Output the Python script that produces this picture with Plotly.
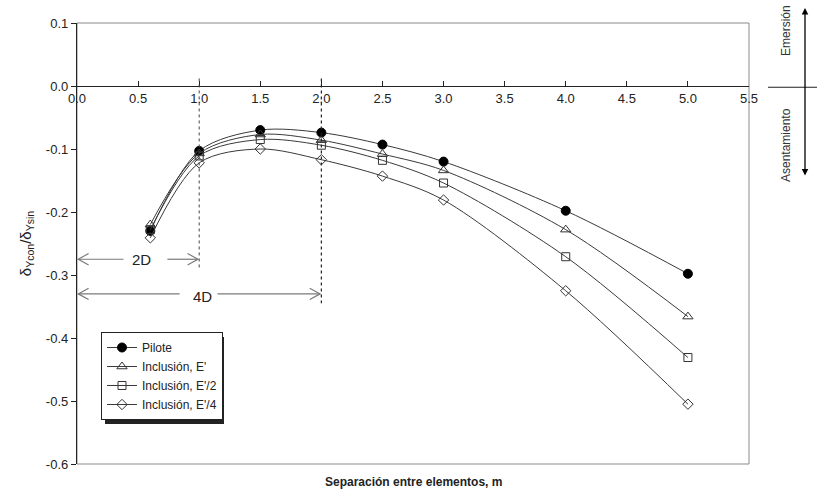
import plotly.graph_objects as go

# ---- data ----
separacion = [0.6, 1.0, 1.5, 2.0, 2.5, 3.0, 4.0, 5.0]
pilote     = [-0.230, -0.103, -0.070, -0.074, -0.093, -0.120, -0.198, -0.298]
incl_E     = [-0.220, -0.107, -0.077, -0.086, -0.108, -0.134, -0.228, -0.366]
incl_E2    = [-0.228, -0.111, -0.085, -0.094, -0.118, -0.154, -0.271, -0.431]
incl_E4    = [-0.241, -0.122, -0.100, -0.117, -0.143, -0.181, -0.325, -0.505]

series_names = ["Pilote", "Inclusión, E'", "Inclusión, E'/2", "Inclusión, E'/4"]
x_ticks = [0.0, 0.5, 1.0, 1.5, 2.0, 2.5, 3.0, 3.5, 4.0, 4.5, 5.0, 5.5]
y_ticks = [0.1, 0.0, -0.1, -0.2, -0.3, -0.4, -0.5, -0.6]

FONT = "Liberation Sans, Arial, sans-serif"
LINE = "#3a3a3a"

fig = go.Figure()
styles = [
    dict(symbol="circle", size=9, color="black", line=dict(color="black", width=1)),
    dict(symbol="triangle-up-open", size=9, color="#333", line=dict(color="#333", width=1)),
    dict(symbol="square-open", size=8, color="#333", line=dict(color="#333", width=1)),
    dict(symbol="diamond-open", size=8, color="#333", line=dict(color="#333", width=1)),
]
for name, vals, st in zip(series_names, [pilote, incl_E, incl_E2, incl_E4], styles):
    fig.add_trace(go.Scatter(
        x=separacion, y=vals, name=name, mode="lines+markers",
        line=dict(color=LINE, width=1, shape="spline", smoothing=0.9),
        marker=st, cliponaxis=False,
    ))

PW, PH, L, T = 672, 441, 77, 23
def px(xp):  # pixel x -> paper
    return (xp - L) / PW
def py(yp):  # pixel y -> paper
    return (T + PH - yp) / PH

shapes = []
# plot frame (gray)
shapes.append(dict(type="rect", xref="paper", yref="paper", x0=0, y0=0, x1=1, y1=1,
                   line=dict(color="#8a8a8a", width=1), layer="below"))
# dashed verticals at 2D and 4D
shapes.append(dict(type="line", xref="x", yref="y", x0=1.0, x1=1.0, y0=0.012, y1=-0.292,
                   line=dict(color="#444", width=1, dash="dot")))
shapes.append(dict(type="line", xref="x", yref="y", x0=2.0, x1=2.0, y0=0.012, y1=-0.345,
                   line=dict(color="#222", width=1.2, dash="dot")))

AR = "#7a7a7a"
def hline(x0, x1, y):
    shapes.append(dict(type="line", xref="x", yref="y", x0=x0, x1=x1, y0=y, y1=y,
                       line=dict(color=AR, width=1.2)))
def head(x, y, direction):
    dx = 0.085 * direction
    shapes.append(dict(type="path", xref="x", yref="y",
                       path=f"M {x-dx},{y+0.009} L {x},{y} L {x-dx},{y-0.009}",
                       line=dict(color=AR, width=1.2)))

y2d, y4d = -0.275, -0.330
hline(0.01, 0.38, y2d); head(0.01, y2d, -1)
hline(0.74, 0.99, y2d); head(0.99, y2d, 1)
hline(0.01, 0.84, y4d); head(0.01, y4d, -1)
hline(1.15, 1.99, y4d); head(1.99, y4d, 1)

# right-hand side indicator line
shapes.append(dict(type="line", xref="paper", yref="y", x0=px(768), x1=px(817), y0=-0.002, y1=-0.002,
                   line=dict(color="#222", width=1)))

annotations = [
    dict(x=0.53, y=y2d, xref="x", yref="y", text="2D", showarrow=False,
         font=dict(family=FONT, size=15, color="#222")),
    dict(x=1.03, y=y4d - 0.004, xref="x", yref="y", text="4D", showarrow=False,
         font=dict(family=FONT, size=15, color="#222")),
    dict(x=px(786), y=py(31), xref="paper", yref="paper", text="Emersión", textangle=-90,
         xanchor="center", yanchor="middle",
         showarrow=False, font=dict(family=FONT, size=12, color="#333")),
    dict(x=px(786), y=py(145), xref="paper", yref="paper", text="Asentamiento", textangle=-90,
         xanchor="center", yanchor="middle",
         showarrow=False, font=dict(family=FONT, size=12, color="#333")),
    dict(x=px(805), y=py(8), xref="paper", yref="paper", ax=0, ay=169,
         text="", showarrow=True, arrowhead=2, arrowside="end+start", arrowsize=1,
         arrowwidth=1.3, arrowcolor="black"),
    dict(x=0.5, y=py(482), xref="paper", yref="paper", text="<b>Separación entre elementos, m</b>",
         xanchor="center", yanchor="middle",
         showarrow=False, font=dict(family=FONT, size=12, color="#222")),
]

# legend shadow
shapes.append(dict(type="rect", xref="paper", yref="paper",
                   x0=px(105), x1=px(224), y0=py(424), y1=py(337),
                   fillcolor="#222", line=dict(width=0), layer="above"))

fig.update_layout(
    width=817, height=495,
    margin=dict(l=L, r=817 - L - PW, t=T, b=495 - T - PH),
    paper_bgcolor="white", plot_bgcolor="white",
    font=dict(family=FONT, size=13, color="#222"),
    showlegend=True,
    legend=dict(x=px(101), y=py(332), xanchor="left", yanchor="top",
                bgcolor="white", bordercolor="#222", borderwidth=1,
                font=dict(family=FONT, size=12, color="#222"),
                tracegroupgap=0, itemwidth=30),
    shapes=shapes, annotations=annotations,
    xaxis=dict(range=[0, 5.5], tickvals=x_ticks, ticktext=[f"{v:.1f}" for v in x_ticks],
               anchor="free", position=0.6 / 0.7, showgrid=False, zeroline=False,
               showline=True, linecolor="#222", linewidth=1.3,
               ticks="inside", ticklen=5, tickcolor="#222",
               tickfont=dict(family=FONT, size=13, color="#222")),
    yaxis=dict(range=[-0.6, 0.1], tickvals=y_ticks, ticktext=[f"{v:.1f}" for v in y_ticks],
               showgrid=False, zeroline=False, showline=True, linecolor="#222", linewidth=1.3,
               ticks="outside", ticklen=5, tickcolor="#222",
               tickfont=dict(family=FONT, size=13, color="#222"),
               title=dict(text="δ<sub>Ycon</sub>/δ<sub>Ysin</sub>", standoff=10,
                          font=dict(family=FONT, size=15, color="#222"))),
)

fig.write_html("out.html")
